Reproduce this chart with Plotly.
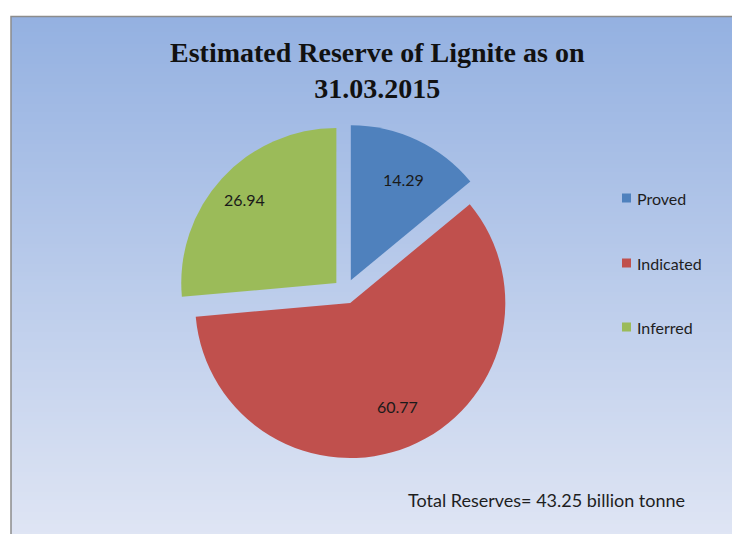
import numpy as np
import plotly.graph_objects as go

# Lignite reserve categories and values (percent of total)
categories = ["Proved", "Indicated", "Inferred"]
values = [14.29, 60.77, 26.94]
colors = ["#4f81bd", "#c0504d", "#9bbb59"]
title_text = "Estimated Reserve of Lignite as on<br>31.03.2015"
total_note = "Total Reserves= 43.25 billion tonne"

W, H = 732, 534
PULL = 0.08
# pie domain in pixels (left, top, right, bottom)
dom_px = (178, 124, 513, 459)


def px_x(x):
    return x / W


def px_y(y):
    return 1 - y / H


fig = go.Figure()
fig.add_trace(go.Pie(
    labels=categories,
    values=values,
    sort=False,
    direction="clockwise",
    rotation=0,
    pull=[PULL] * len(values),
    marker=dict(colors=colors, line=dict(width=0)),
    textinfo="none",
    hoverinfo="label+value",
    showlegend=False,
    domain=dict(x=[px_x(dom_px[0]), px_x(dom_px[2])],
                y=[px_y(dom_px[3]), px_y(dom_px[1])]),
))

shapes = []
# vertical gradient fill of the chart area
top_c = np.array([148, 177, 225])
bot_c = np.array([223, 229, 244])
y0 = 16
step = 4
for y in range(y0, H + step, step):
    t = (y - y0) / (H - y0)
    c = top_c + (bot_c - top_c) * t
    shapes.append(dict(
        type="rect", xref="paper", yref="paper", layer="below",
        x0=px_x(11), x1=px_x(W + 10), y0=px_y(y + step + 0.5), y1=px_y(y),
        fillcolor="rgb(%d,%d,%d)" % tuple(c.round()), line=dict(width=0),
    ))
# chart frame
shapes.append(dict(
    type="rect", xref="paper", yref="paper", layer="below",
    x0=px_x(11), x1=px_x(W + 20), y0=px_y(H + 20), y1=px_y(16.5),
    fillcolor="rgba(0,0,0,0)", line=dict(color="#8c8c8c", width=1.5),
))

annotations = []
# slice value labels placed along each slice bisector
cx = (dom_px[0] + dom_px[2]) / 2
cy = (dom_px[1] + dom_px[3]) / 2
r = (dom_px[2] - dom_px[0]) / (2 + 2 * PULL)
total = sum(values)
cum = 0.0
for v in values:
    mid = (cum + v / 2) / total * 2 * np.pi
    cum += v
    rad = (PULL + 0.8) * r
    lx = cx + rad * np.sin(mid)
    ly = cy - rad * np.cos(mid)
    annotations.append(dict(
        x=px_x(lx), y=px_y(ly), xref="paper", yref="paper",
        text="%.2f" % v, showarrow=False,
        font=dict(family="Lato", size=16, color="#1a1a1a"),
    ))

# legend drawn as swatches and labels
leg_y = [198, 263, 327]
for name, col, ly in zip(categories, colors, leg_y):
    shapes.append(dict(
        type="rect", xref="paper", yref="paper", layer="above",
        x0=px_x(622), x1=px_x(631), y0=px_y(ly + 4.5), y1=px_y(ly - 4.5),
        fillcolor=col, line=dict(width=0),
    ))
    annotations.append(dict(
        x=px_x(635), y=px_y(ly), xref="paper", yref="paper",
        xanchor="left", yanchor="middle", text=name, showarrow=False,
        font=dict(family="Lato", size=16, color="#1e1e1e"),
    ))

# title
annotations.append(dict(
    x=px_x(377), y=px_y(70), xref="paper", yref="paper",
    xanchor="center", yanchor="middle", text="<b>%s</b>" % title_text,
    showarrow=False,
    font=dict(family="Liberation Serif", size=28, color="#111111"),
))
# total note
annotations.append(dict(
    x=px_x(546), y=px_y(500), xref="paper", yref="paper",
    xanchor="center", yanchor="middle", text=total_note, showarrow=False,
    font=dict(family="Lato", size=18, color="#1e1e1e"),
))

fig.update_layout(
    width=W, height=H,
    margin=dict(l=0, r=0, t=0, b=0),
    paper_bgcolor="white",
    shapes=shapes,
    annotations=annotations,
)

fig.write_html("out.html")
